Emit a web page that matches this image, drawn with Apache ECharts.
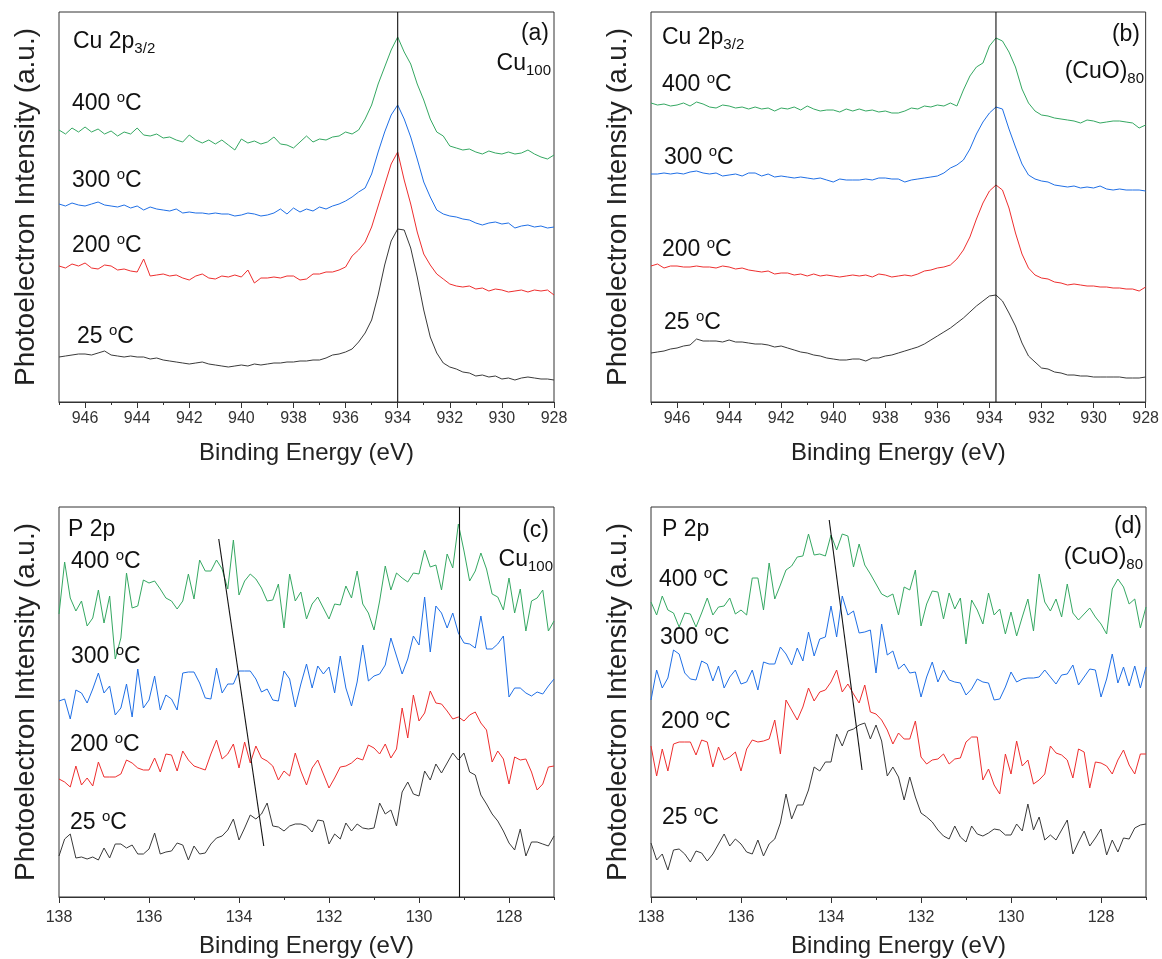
<!DOCTYPE html>
<html>
<head>
<meta charset="utf-8">
<script src="https://cdn.jsdelivr.net/npm/echarts@6/dist/echarts.min.js"></script>
<style>
html,body{margin:0;padding:0;background:#fff;}
#chart{width:1162px;height:959px;}
</style>
</head>
<body>
<div id="chart"></div>
<script>
// ---------- sampling grids (binding energy, eV) ----------
function energyGrid(start, step, n){ var a=[]; for(var i=0;i<n;i++){ a.push(+(start+step*i).toFixed(3)); } return a; }
var energyCu = energyGrid(947, -0.25, 77);   // Cu 2p3/2 panels
var energyP  = energyGrid(138, -0.125, 89);  // P 2p panels

// ---------- tick labels ----------
var ticksCuMajor = [928,930,932,934,936,938,940,942,944,946];
var ticksCuMinor = [929,931,933,935,937,939,941,943,945,947];
var ticksPMajor  = [128,130,132,134,136,138];
var ticksPMinor  = [127,129,131,133,135,137];

// ---------- (a) Cu 2p3/2, Cu100 ----------
var cuA400 = [272,268,274,270,275,270,273,268,271,266,270,268,274,267,266,268,264,265,262,260,267,262,259,262,258,262,257,252,263,259,261,258,260,265,258,257,254,260,266,260,263,262,265,266,270,268,272,283,297,318,335,352,365,350,338,318,302,283,270,266,256,254,252,253,250,248,251,249,248,250,248,249,252,248,245,243,247];
var cuA300 = [198,196,199,197,196,198,200,197,196,195,197,194,196,192,195,193,192,191,193,189,190,189,189,188,189,188,188,186,187,189,188,186,187,189,193,188,194,190,193,191,195,193,196,198,201,205,210,214,228,250,270,287,297,283,265,243,220,205,192,188,186,185,183,182,179,177,179,180,178,179,174,176,177,175,176,174,175];
var cuA200 = [136,134,138,136,139,134,133,137,136,132,133,131,130,143,126,127,128,126,127,124,122,126,128,124,123,126,125,127,125,132,119,124,124,125,124,126,126,122,123,128,128,130,130,132,135,146,152,160,175,196,217,238,250,222,198,170,148,137,128,123,118,116,115,116,113,114,111,113,112,110,111,112,110,112,111,112,107];
var cuA25  = [45,46,47,48,48,47,49,51,47,46,45,46,45,45,43,44,42,41,40,39,38,39,40,38,37,36,35,36,37,36,38,37,38,39,39,40,40,41,41,42,42,44,47,48,50,53,60,69,82,107,137,161,173,172,154,125,92,65,49,39,35,33,30,29,26,27,25,26,23,24,22,24,25,24,23,23,22];

// ---------- (b) Cu 2p3/2, (CuO)80 ----------
var cuB400 = [299,297,298,296,297,299,296,300,298,295,294,297,296,294,295,293,295,293,294,291,294,293,295,292,296,293,291,292,292,290,293,291,293,291,292,290,291,289,289,291,294,293,296,295,297,296,299,296,312,326,335,339,356,364,361,350,335,313,299,291,287,286,284,283,282,281,279,282,281,279,280,281,281,280,279,274,277];
var cuB300 = [228,228,229,228,229,228,230,231,229,228,229,226,227,228,226,229,229,226,228,225,226,225,224,225,224,223,224,222,220,223,222,222,222,223,222,224,224,223,223,220,222,223,224,225,226,229,234,237,242,253,268,280,289,295,293,273,255,238,227,223,221,220,217,216,215,216,214,215,214,216,213,212,213,212,212,212,211];
var cuB200 = [136,138,134,136,136,135,135,136,135,135,134,136,135,133,134,132,131,130,131,128,129,129,127,128,126,128,126,127,126,125,126,127,126,127,125,128,127,125,126,127,126,128,131,132,134,135,137,143,152,165,183,199,211,217,212,194,169,148,134,127,124,123,120,119,117,118,117,116,116,115,115,114,114,113,113,111,115];
var cuB25  = [49,50,51,53,54,56,57,63,61,61,61,60,62,60,60,59,58,58,57,55,56,54,52,50,49,47,46,44,43,42,42,43,43,41,44,44,46,47,49,51,53,55,58,62,66,70,74,79,84,90,96,101,106,107,101,89,76,59,46,40,34,33,30,29,27,27,26,26,25,25,25,25,25,24,24,24,25];

// ---------- (c) P 2p, Cu100 ----------
var pC400 = [283,335,299,286,296,271,279,307,274,301,238,259,324,289,291,317,314,316,308,299,296,288,296,323,298,337,326,326,337,328,308,357,302,316,323,318,309,296,297,313,269,323,296,305,278,293,300,289,278,293,292,311,299,326,293,284,267,296,331,307,324,319,315,324,323,347,330,332,307,343,329,373,346,316,326,344,328,303,300,287,319,284,308,266,296,299,307,266,276];
var pC300 = [196,198,178,207,204,194,208,224,204,211,182,189,213,180,228,189,197,221,187,202,198,187,224,225,225,214,199,198,229,204,213,213,226,226,226,218,205,208,197,196,226,218,190,213,233,209,231,223,230,204,241,209,191,215,252,216,221,223,232,259,241,223,238,261,252,300,245,291,284,269,284,264,254,253,249,281,248,248,253,261,200,209,209,204,201,205,203,211,218];
var pC200 = [118,115,110,131,112,119,111,135,120,120,120,123,137,134,129,127,127,139,125,143,142,126,146,137,131,129,127,143,157,138,143,153,129,155,134,151,139,136,131,117,126,121,144,126,112,129,137,123,109,119,130,131,134,139,137,152,149,143,153,139,148,189,159,202,176,184,206,194,193,186,178,180,176,182,185,174,167,135,146,138,113,140,137,138,125,107,113,130,131];
var pC25  = [41,58,63,39,40,38,40,37,49,39,53,53,49,52,43,43,48,64,43,45,46,54,52,37,51,43,44,53,59,61,67,78,57,69,82,78,83,94,71,70,66,71,73,73,71,65,77,76,53,63,58,74,66,73,69,68,69,94,83,87,71,105,115,103,101,126,117,133,124,134,144,137,144,125,122,102,93,83,76,66,54,47,68,41,55,55,53,51,61];

// ---------- (d) P 2p, (CuO)80 ----------
var pD400 = [295,282,301,287,284,270,284,283,270,284,299,282,290,291,299,283,287,282,319,319,287,334,298,312,327,331,340,341,363,342,343,341,362,347,363,361,330,353,332,323,313,303,300,303,282,310,307,327,271,293,306,305,278,304,288,299,253,297,287,273,304,282,288,263,285,261,280,298,266,323,295,286,298,280,313,284,277,283,289,280,273,263,308,318,310,293,298,269,290];
var pD300 = [197,227,209,219,247,243,224,218,217,236,233,216,231,209,220,227,213,215,227,207,235,233,233,250,243,232,249,236,265,241,258,260,291,260,301,282,286,264,265,267,224,273,242,246,228,233,224,225,200,220,235,215,227,217,215,214,202,208,218,215,214,197,198,210,225,215,218,219,219,220,227,220,213,222,223,232,212,220,228,227,200,218,243,214,230,211,231,209,230];
var pD200 = [151,121,148,126,153,155,155,155,142,157,155,130,150,137,140,145,126,148,157,155,156,158,177,143,197,187,177,190,209,196,205,207,215,227,205,213,203,194,212,185,183,177,167,153,164,158,158,176,140,133,137,138,143,133,138,139,155,160,160,117,128,112,103,143,123,156,131,137,113,117,123,151,144,142,137,119,148,145,109,135,134,131,123,137,147,132,123,143,143];
var pD25  = [54,37,43,27,47,48,43,35,46,44,36,43,53,63,51,58,53,45,43,57,41,53,58,74,103,78,92,92,107,130,126,135,135,163,151,166,168,172,174,158,172,156,121,130,120,97,120,100,84,80,75,67,61,58,71,60,55,71,63,61,64,68,67,62,62,73,66,93,67,80,57,62,57,67,77,43,55,66,51,59,68,42,57,45,59,58,69,72,73];

// ---------- guide lines [eV, intensity] ----------
var guideA  = [[934, 0], [934, 390]];
var guideB  = [[933.75, 0], [933.75, 390]];
var guideC  = [[129.1, 0], [129.1, 390]];
var slantC  = [[134.45, 358], [133.45, 51]];
var slantD  = [[134.04, 377], [133.31, 127]];

// ---------- styling ----------
var FONT = 'Liberation Sans, Arial, Helvetica, sans-serif';
var COL = {g:'#35a862', b:'#1f6fe6', r:'#ee2e2e', k:'#3a3a3a'};
var AX = '#333333';

function zip(xs, ys){ return ys.map(function(v,i){ return [xs[i], v]; }); }

var grids = [
  {left:59,  top:12,  width:495, height:390},
  {left:651, top:12,  width:495, height:390},
  {left:59,  top:507, width:495, height:390},
  {left:651, top:507, width:495, height:390}
].map(function(g){ return Object.assign({show:true, borderColor:AX, borderWidth:1, backgroundColor:'transparent'}, g); });

var xAxes = [], yAxes = [];
function addAxes(gi, min, max, major, minor, margin, gap){
  xAxes.push({
    gridIndex:gi, type:'value', min:min, max:max, inverse:true, position:'bottom',
    axisLine:{show:true, lineStyle:{color:AX, width:1}},
    axisTick:{show:true, length:6, customValues:major, lineStyle:{color:AX, width:1}},
    axisLabel:{show:true, customValues:major, fontSize:16, color:'#333', margin:margin, fontFamily:FONT},
    splitLine:{show:false},
    name:'Binding Energy (eV)', nameLocation:'middle', nameGap:gap,
    nameTextStyle:{fontSize:24, color:'#222', fontFamily:FONT}
  });
  xAxes.push({
    gridIndex:gi, type:'value', min:min, max:max, inverse:true, position:'bottom',
    axisLine:{show:false},
    axisTick:{show:true, length:3, customValues:minor, lineStyle:{color:AX, width:1}},
    axisLabel:{show:false}, splitLine:{show:false}
  });
  yAxes.push({
    gridIndex:gi, type:'value', min:0, max:390,
    axisLine:{show:false}, axisTick:{show:false}, axisLabel:{show:false}, splitLine:{show:false},
    name:'Photoelectron Intensity (a.u.)', nameLocation:'middle', nameGap:19, nameRotate:90,
    nameTextStyle:{fontSize:28, color:'#222', fontFamily:FONT}
  });
}
addAxes(0, 928, 947, ticksCuMajor, ticksCuMinor, 9, 39);
addAxes(1, 928, 947, ticksCuMajor, ticksCuMinor, 9, 39);
addAxes(2, 127, 138, ticksPMajor, ticksPMinor, 13, 37);
addAxes(3, 127, 138, ticksPMajor, ticksPMinor, 13, 37);

var series = [];
function trace(gi, xs, ys, color){
  series.push({type:'line', xAxisIndex:gi*2, yAxisIndex:gi, data:zip(xs, ys),
    showSymbol:false, symbol:'none', silent:true, animation:false,
    lineStyle:{color:color, width:1}});
}
function guide(gi, pts){
  series.push({type:'line', xAxisIndex:gi*2, yAxisIndex:gi, data:pts,
    showSymbol:false, symbol:'none', silent:true, animation:false, z:5,
    lineStyle:{color:'#111', width:1.1}});
}
trace(0, energyCu, cuA25, COL.k); trace(0, energyCu, cuA200, COL.r); trace(0, energyCu, cuA300, COL.b); trace(0, energyCu, cuA400, COL.g);
trace(1, energyCu, cuB25, COL.k); trace(1, energyCu, cuB200, COL.r); trace(1, energyCu, cuB300, COL.b); trace(1, energyCu, cuB400, COL.g);
trace(2, energyP, pC25, COL.k); trace(2, energyP, pC200, COL.r); trace(2, energyP, pC300, COL.b); trace(2, energyP, pC400, COL.g);
trace(3, energyP, pD25, COL.k); trace(3, energyP, pD200, COL.r); trace(3, energyP, pD300, COL.b); trace(3, energyP, pD400, COL.g);
guide(0, guideA); guide(1, guideB); guide(2, guideC); guide(2, slantC); guide(3, slantD);

// ---------- annotations ----------
var RICH = {
  m:{fontSize:23, lineHeight:28, fontFamily:FONT, fill:'#111'},
  s:{fontSize:15, lineHeight:12, verticalAlign:'bottom', fontFamily:FONT, fill:'#111'},
  u:{fontSize:15, lineHeight:17, verticalAlign:'top', fontFamily:FONT, fill:'#111'}
};
function lbl(x, y, text, align){
  return {type:'text', z:100, silent:true,
    style:{x:x, y:y, text:text, rich:RICH, align:align||'left', verticalAlign:'middle',
      fontSize:23, fontFamily:FONT, fill:'#111'}};
}
var T400='{m|400 }{u|o}{m|C}', T300='{m|300 }{u|o}{m|C}', T200='{m|200 }{u|o}{m|C}', T25='{m|25 }{u|o}{m|C}';
var graphics = [
  lbl(73, 42, '{m|Cu 2p}{s|3/2}'), lbl(549, 34, '{m|(a)}', 'right'), lbl(551, 64, '{m|Cu}{s|100}', 'right'),
  lbl(72, 104, T400), lbl(72, 181, T300), lbl(72, 246, T200), lbl(77, 337, T25),

  lbl(662, 38, '{m|Cu 2p}{s|3/2}'), lbl(1140, 35, '{m|(b)}', 'right'), lbl(1144, 72, '{m|(CuO)}{s|80}', 'right'),
  lbl(662, 85, T400), lbl(664, 158, T300), lbl(662, 250, T200), lbl(664, 323, T25),

  lbl(68, 530, '{m|P 2p}'), lbl(549, 531, '{m|(c)}', 'right'), lbl(553, 560, '{m|Cu}{s|100}', 'right'),
  lbl(71, 562, T400), lbl(71, 657, T300), lbl(70, 745, T200), lbl(70, 823, T25),

  lbl(662, 530, '{m|P 2p}'), lbl(1142, 527, '{m|(d)}', 'right'), lbl(1143, 558, '{m|(CuO)}{s|80}', 'right'),
  lbl(659, 580, T400), lbl(660, 638, T300), lbl(661, 722, T200), lbl(662, 818, T25)
];

var chart = echarts.init(document.getElementById('chart'), null, {renderer:'canvas'});
chart.setOption({
  animation:false,
  backgroundColor:'#ffffff',
  textStyle:{fontFamily:FONT},
  grid:grids, xAxis:xAxes, yAxis:yAxes, series:series,
  graphic:graphics
});
</script>
</body>
</html>
